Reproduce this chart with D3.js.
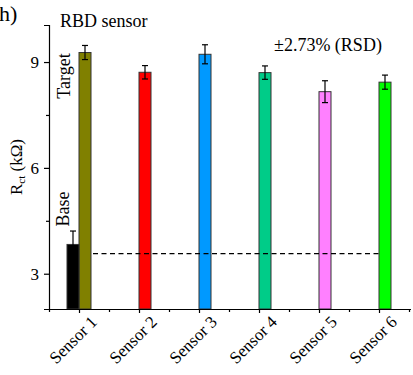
<!DOCTYPE html>
<html>
<head>
<meta charset="utf-8">
<script src="https://cdn.jsdelivr.net/npm/d3@7"></script>
<style>
  body { margin: 0; background: #fff; }
</style>
</head>
<body>
<script>
// data
var sensors = ["Sensor 1", "Sensor 2", "Sensor 3", "Sensor 4", "Sensor 5", "Sensor 6"];
var values = [9.27, 8.71, 9.22, 8.70, 8.16, 8.43];
var errors = [0.20, 0.19, 0.27, 0.19, 0.31, 0.20];
var barColors = ["#808000", "#ff0000", "#0099ff", "#00cc88", "#ff80ff", "#00ff00"];
var baseValue = 3.83;
var baseError = 0.38;
var dashLevel = 3.57;
var yTicks = [3, 6, 9];
var yMinorTicks = [4.5, 7.5];

var serif = "'Liberation Serif', 'DejaVu Serif', serif";
var width = 413, height = 375;
var x0 = 49, x1 = 409, yTop = 25, yBottom = 309;

var svg = d3.select("body").append("svg")
    .attr("width", width)
    .attr("height", height);

var xScale = d3.scaleLinear().domain([0.5, 6.5]).range([x0, x1]);
var yScale = d3.scaleLinear().domain([2, 10.05]).range([yBottom, yTop]);
var barW = (xScale(1) - xScale(0)) * 0.2;

var idx = d3.range(sensors.length);

// bars
svg.selectAll(".bar")
    .data(idx)
  .enter().append("rect")
    .attr("class", "bar")
    .attr("x", function(i) { return xScale(i + 1); })
    .attr("y", function(i) { return yScale(values[i]); })
    .attr("width", barW)
    .attr("height", function(i) { return yBottom - yScale(values[i]); })
    .attr("fill", function(i) { return barColors[i]; })
    .attr("stroke", "#333")
    .attr("stroke-width", 1);

// base bar for sensor 1
svg.append("rect")
    .attr("x", xScale(1) - barW)
    .attr("y", yScale(baseValue))
    .attr("width", barW)
    .attr("height", yBottom - yScale(baseValue))
    .attr("fill", "#000")
    .attr("stroke", "#333");

// error bars
function errBar(cx, v, e) {
  var g = svg.append("g").attr("stroke", "#000").attr("stroke-width", 1.2);
  g.append("line").attr("x1", cx).attr("x2", cx).attr("y1", yScale(v + e)).attr("y2", yScale(v - e));
  g.append("line").attr("x1", cx - 3).attr("x2", cx + 3).attr("y1", yScale(v + e)).attr("y2", yScale(v + e));
  g.append("line").attr("x1", cx - 3).attr("x2", cx + 3).attr("y1", yScale(v - e)).attr("y2", yScale(v - e));
}
idx.forEach(function(i) { errBar(xScale(i + 1) + barW / 2, values[i], errors[i]); });
errBar(xScale(1) - barW / 2, baseValue, baseError);

// dashed base level
svg.append("line")
    .attr("x1", xScale(1) + barW + 2)
    .attr("x2", xScale(6))
    .attr("y1", yScale(dashLevel))
    .attr("y2", yScale(dashLevel))
    .attr("stroke", "#000")
    .attr("stroke-width", 1.2)
    .attr("stroke-dasharray", "5,3.5");

// x axis
var xAxis = svg.append("g")
    .attr("transform", "translate(0," + yBottom + ")")
    .call(d3.axisBottom(xScale).tickValues(d3.range(1, 7)).tickSize(4).tickFormat(""));
xAxis.append("g").call(d3.axisBottom(xScale).tickValues(d3.range(0.5, 7, 1)).tickSize(3).tickFormat(""))
    .select(".domain").remove();
xAxis.selectAll("path, line").attr("stroke", "#000").attr("stroke-width", 1.2);
svg.select(".domain").attr("d", "M" + x0 + ",0.5H411");

svg.selectAll(".xlab")
    .data(idx)
  .enter().append("text")
    .attr("class", "xlab")
    .attr("transform", function(i) {
      return "translate(" + (xScale(i + 1) + 19) + "," + (yBottom + 14) + ") rotate(-45)";
    })
    .attr("text-anchor", "end")
    .attr("font-family", serif)
    .attr("font-size", 17)
    .text(function(i) { return sensors[i]; });

// y axis
var yAxis = svg.append("g")
    .attr("transform", "translate(" + x0 + ",0)")
    .call(d3.axisLeft(yScale).tickValues(yTicks).tickSize(5).tickPadding(5));
yAxis.append("g").call(d3.axisLeft(yScale).tickValues(yMinorTicks).tickSize(3).tickFormat(""))
    .select(".domain").remove();
yAxis.selectAll("path, line").attr("stroke", "#000").attr("stroke-width", 1.2);
yAxis.selectAll("text").attr("font-family", serif).attr("font-size", 17).attr("fill", "#000");

// y label
var yl = svg.append("text")
    .attr("transform", "translate(22,167) rotate(-90)")
    .attr("text-anchor", "middle")
    .attr("font-family", serif)
    .attr("font-size", 17);
yl.append("tspan").text("R");
yl.append("tspan").attr("dy", 3).attr("font-size", 11).text("ct");
yl.append("tspan").attr("dy", -3).text(" (k\u03a9)");

// annotations
function note(txt, tx, size) {
  return svg.append("text").attr("transform", tx)
      .attr("font-family", serif).attr("font-size", size).text(txt);
}
note("h)", "translate(-1,21)", 22);
note("RBD sensor", "translate(60,27)", 18);
note("\u00b12.73% (RSD)", "translate(274,51)", 18);
note("Target", "translate(70,76) rotate(-90)", 18).attr("text-anchor", "middle");
note("Base", "translate(69,209) rotate(-90)", 18).attr("text-anchor", "middle");
</script>
</body>
</html>
